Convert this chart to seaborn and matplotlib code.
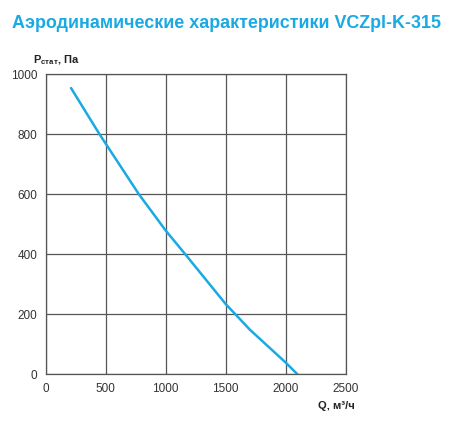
import pandas as pd
import matplotlib
matplotlib.use("Agg")
import matplotlib.pyplot as plt
import seaborn as sns

# values
flow = [211, 447, 775, 1000, 1161, 1500, 1703, 2000, 2095]
pressure = [953, 800, 600, 478, 400, 233, 147, 38, 0]
x_ticks = [0, 500, 1000, 1500, 2000, 2500]
y_ticks = [0, 200, 400, 600, 800, 1000]

df = pd.DataFrame({"Q": flow, "P": pressure})

sns.set_style("white")
plt.rcParams["font.family"] = ["Liberation Sans", "DejaVu Sans"]

blue = "#1aa9e2"
grid_c = "#555555"

fig = plt.figure(figsize=(4.5, 4.27), dpi=100)
ax = fig.add_axes([0.1016, 0.1218, 0.6667, 0.7026])

sns.lineplot(data=df, x="Q", y="P", ax=ax, color=blue, linewidth=1.8)

ax.set_xlim(0, 2500)
ax.set_ylim(0, 1000)
ax.set_xticks(x_ticks)
ax.set_yticks(y_ticks)
ax.grid(True, color=grid_c, linewidth=0.9)
ax.set_axisbelow(True)
for s in ax.spines.values():
    s.set_color(grid_c)
    s.set_linewidth(0.9)
ax.tick_params(axis="both", direction="out", length=4, width=0.9,
               color=grid_c, labelsize=8.5, labelcolor="#333333", pad=2)
ax.set_xlabel("")
ax.set_ylabel("")

fig.text(0.504, 0.944, "Аэродинамические характеристики VCZpl-K-315",
         ha="center", va="center", fontsize=12.9, fontweight="bold", color=blue)
fig.text(0.074, 0.86, r"P$_{\mathregular{стат}}$, Па", ha="left", va="center",
         fontsize=8, fontweight="bold", color="#222222")
fig.text(0.788, 0.05, "Q, м³/ч", ha="right", va="center",
         fontsize=8, fontweight="bold", color="#222222")

plt.savefig("out.png", dpi=100)
plt.close()
